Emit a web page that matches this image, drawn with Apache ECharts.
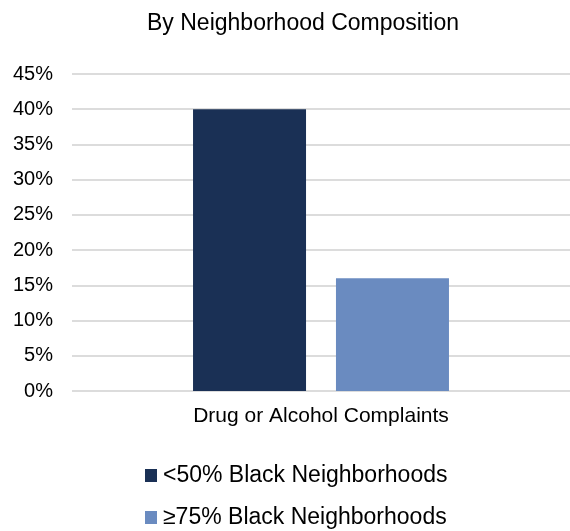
<!DOCTYPE html>
<html>
<head>
<meta charset="utf-8">
<script src="https://cdn.jsdelivr.net/npm/echarts@6/dist/echarts.min.js"></script>
<style>html,body{margin:0;padding:0;background:#fff}#c{width:570px;height:531px}</style>
</head>
<body>
<div id="c"></div>
<script>
const titleText = 'By Neighborhood Composition';
const categories = ['Drug or Alcohol Complaints'];
const seriesNames = ['<50% Black Neighborhoods', '≥75% Black Neighborhoods'];
const seriesA = [0.40];
const seriesB = [0.16];
const yTicks = [0, 0.05, 0.10, 0.15, 0.20, 0.25, 0.30, 0.35, 0.40, 0.45];

const font = 'Liberation Sans, Arial, sans-serif';
const legendBase = {
  left: 145, itemWidth: 12, itemHeight: 13, padding: 0,
  icon: 'rect', itemStyle: {borderWidth: 0},
  textStyle: {fontFamily: font, fontSize: 23, color: '#000', padding: [0, 0, 0, 1]}
};
const chart = echarts.init(document.getElementById('c'), null, {renderer: 'canvas'});
chart.setOption({
  animation: false,
  title: {
    text: titleText, left: 298, top: 7, textAlign: 'center',
    textStyle: {fontFamily: font, fontSize: 23, fontWeight: 'normal', color: '#000'}
  },
  legend: [
    Object.assign({}, legendBase, {top: 464, data: [seriesNames[0]]}),
    Object.assign({}, legendBase, {top: 506, data: [seriesNames[1]]})
  ],
  grid: {left: 72, right: -4, top: 74, bottom: 140, containLabel: false},
  xAxis: {
    type: 'category', data: categories,
    axisLine: {show: false}, axisTick: {show: false},
    axisLabel: {fontFamily: font, fontSize: 21, color: '#000', margin: 15}
  },
  yAxis: {
    type: 'value', min: yTicks[0], max: yTicks[yTicks.length - 1], interval: 0.05,
    axisLine: {show: false}, axisTick: {show: false},
    axisLabel: {fontFamily: font, fontSize: 20, color: '#000', margin: 19,
      formatter: v => Math.round(v * 100) + '%'},
    splitLine: {lineStyle: {color: '#dcdcdc', width: 2}}
  },
  series: [
    {name: seriesNames[0], type: 'bar', data: seriesA, barWidth: 113, barGap: '26.5%',
     itemStyle: {color: '#1a3055'}},
    {name: seriesNames[1], type: 'bar', data: seriesB, barWidth: 113,
     itemStyle: {color: '#6a8bc0'}}
  ]
});
</script>
</body>
</html>
